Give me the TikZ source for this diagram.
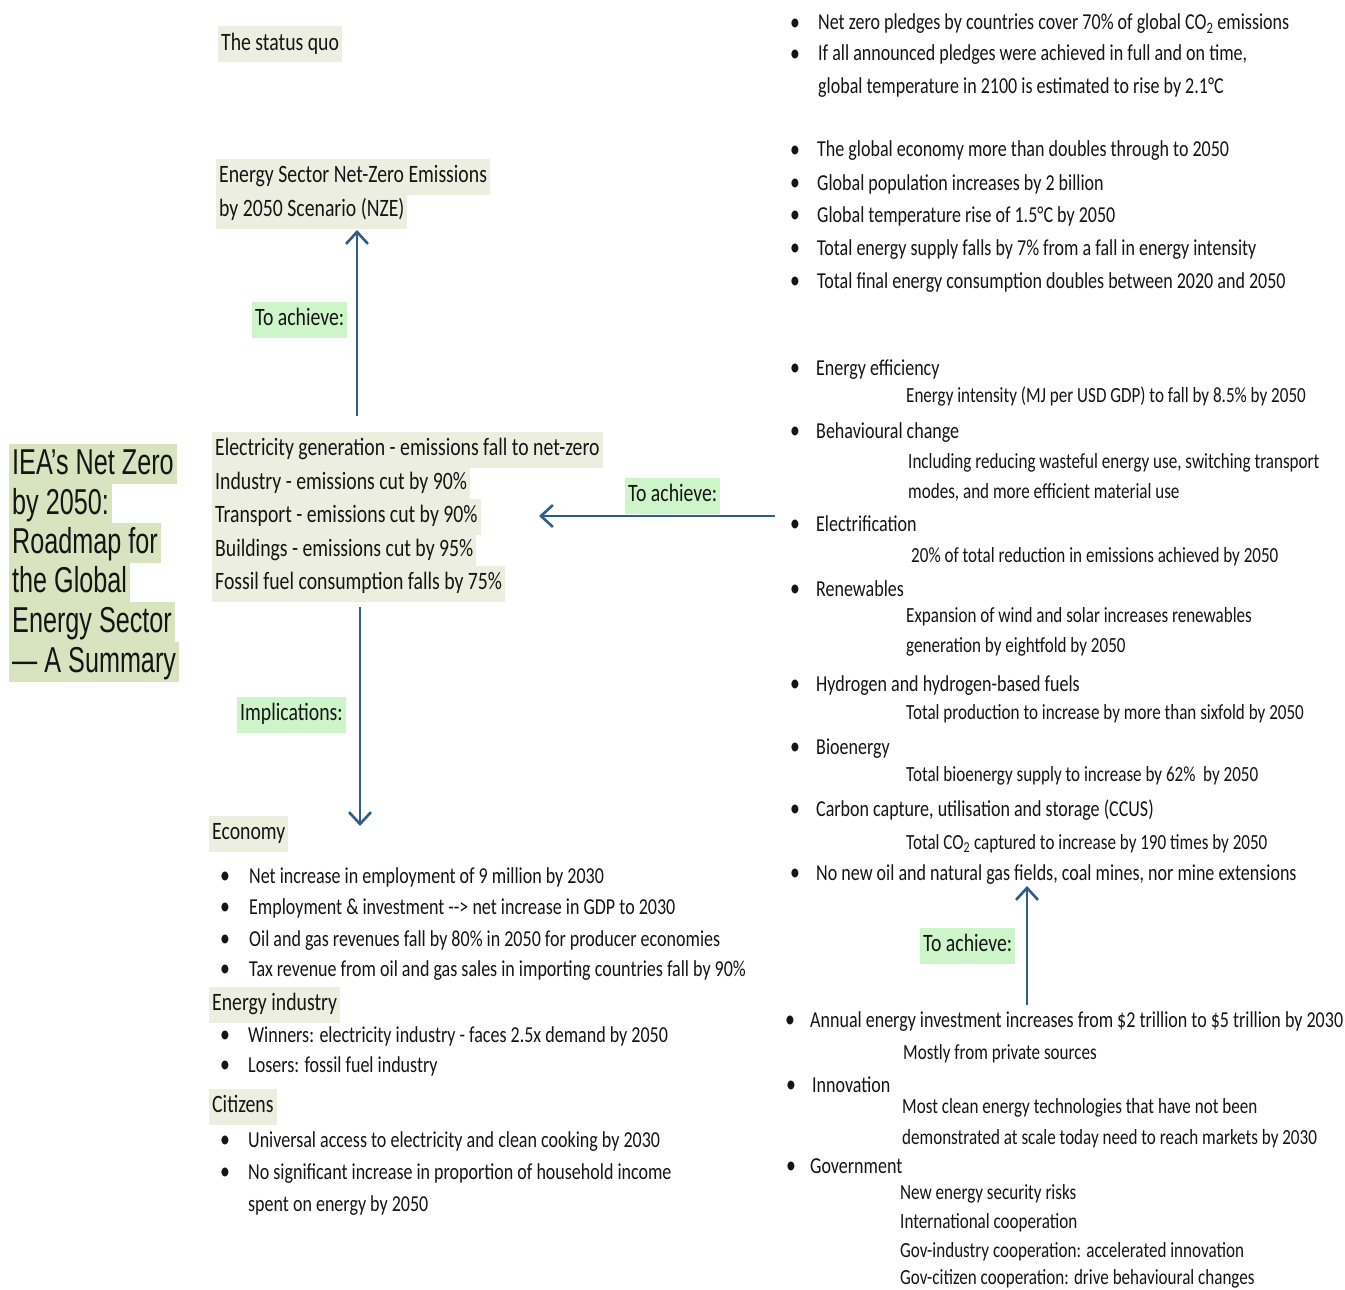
\documentclass[tikz,border=0pt]{standalone}
\usepackage{fontspec}
\setmainfont{Carlito}[FakeStretch=0.79]
\newfontfamily\ttlfont{Liberation Sans}[FakeStretch=0.70]
\usetikzlibrary{arrows.meta}
\definecolor{ink}{HTML}{151515}
\definecolor{hltitle}{HTML}{D8E3C0}
\definecolor{hlblock}{HTML}{ECEFE0}
\definecolor{hlgreen}{HTML}{CDF5C9}
\definecolor{arrowblue}{HTML}{2E5C8C}
\tikzset{
  txt/.style={anchor=west, yshift=-2.5pt, inner xsep=3pt, inner ysep=6pt, text height=17pt, text depth=6pt,
    font=\fontsize{22.8}{28}\selectfont, text=ink},
  subt/.style={txt, font=\fontsize{21.6}{26}\selectfont},
  hl/.style={txt, font=\fontsize{25}{30}\selectfont, text height=18pt, text depth=6pt, fill=hlblock},
  ach/.style={hl, fill=hlgreen},
  bul/.style={anchor=center, yshift=-2.5pt, inner sep=0pt, font=\fontsize{25}{28}\selectfont, text=ink},
  ttl/.style={anchor=west, yshift=-2pt, inner xsep=3pt, inner ysep=0pt, text height=30pt, text depth=10pt,
    font=\ttlfont\fontsize{36}{40}\selectfont, fill=hltitle, text=ink},
  conn/.style={draw=arrowblue, line width=2.6pt, -{Straight Barb[length=12pt,width=22pt,line width=2.6pt]}}
}
\newcommand\bitem[5]{\node[bul] (#1b) at (#2,#4) {\textbullet}; \node[txt] (#1) at (#3,#4) {#5};}
\newcommand\sitem[4]{\node[subt] (#1) at (#2,#3) {#4};}
\newcommand\citem[4]{\node[txt] (#1) at (#2,#3) {#4};}
\begin{document}
\begin{tikzpicture}[x=1pt,y=-1pt]
\fill[white] (0,0) rectangle (1345,1290);
\useasboundingbox (0,0) rectangle (1345,1290);

% title
\node[ttl] (t1) at (9,462) {IEA’s Net Zero};
\node[ttl] (t2) at (9,502) {by 2050:};
\node[ttl] (t3) at (9,541) {Roadmap for};
\node[ttl] (t4) at (9,580) {the Global};
\node[ttl] (t5) at (9,620) {Energy Sector};
\node[ttl] (t6) at (9,660) {— A Summary};

% status quo and NZE
\node[hl] (sq) at (218,42) {The status quo};
\node[hl] (nze1) at (216,174) {Energy Sector Net-Zero Emissions};
\node[hl] (nze2) at (216,208) {by 2050 Scenario (NZE)};

% middle block
\node[hl] (m1) at (212,447) {Electricity generation - emissions fall to net-zero};
\node[hl] (m2) at (212,481) {Industry - emissions cut by 90\%};
\node[hl] (m3) at (212,514) {Transport - emissions cut by 90\%};
\node[hl] (m4) at (212,548) {Buildings - emissions cut by 95\%};
\node[hl] (m5) at (212,581) {Fossil fuel consumption falls by 75\%};

% connectors
\coordinate (a1s) at (357,416);
\coordinate (a1e) at (357,230);
\draw[conn] (a1s) -- (a1e);
\node[ach] (ach1) at (252,317) {To achieve:};

\coordinate (a2s) at (775,516);
\coordinate (a2e) at (539,516);
\draw[conn] (a2s) -- (a2e);
\node[ach] (ach2) at (625,493) {To achieve:};

\coordinate (a3s) at (360,607);
\coordinate (a3e) at (360,826);
\draw[conn] (a3s) -- (a3e);
\node[ach] (imp) at (237,712) {Implications:};

\coordinate (a4s) at (1027,1005);
\coordinate (a4e) at (1027,886);
\draw[conn] (a4s) -- (a4e);
\node[ach] (ach3) at (920,943) {To achieve:};

% implications
\node[hl] (eco) at (209,831) {Economy};
\bitem{e1}{225}{246}{875}{Net increase in employment of 9 million by 2030}
\bitem{e2}{225}{246}{906}{Employment \& investment -{}-{}> net increase in GDP to 2030}
\bitem{e3}{225}{246}{938}{Oil and gas revenues fall by 80\% in 2050 for producer economies}
\bitem{e4}{225}{246}{968}{Tax revenue from oil and gas sales in importing countries fall by 90\%}
\node[hl] (ei) at (209,1002) {Energy industry};
\bitem{i1}{225}{245}{1034}{Winners: electricity industry - faces 2.5x demand by 2050}
\bitem{i2}{225}{245}{1064}{Losers: fossil fuel industry}
\node[hl] (cit) at (209,1104) {Citizens};
\bitem{c1}{225}{245}{1139}{Universal access to electricity and clean cooking by 2030}
\bitem{c2}{225}{245}{1171}{No significant increase in proportion of household income}
\citem{c2b}{245}{1203}{spent on energy by 2050}

% status quo bullets
\bitem{s1}{795}{815}{22}{Net zero pledges by countries cover 70\% of global CO\textsubscript{2} emissions}
\bitem{s2}{795}{815}{53}{If all announced pledges were achieved in full and on time,}
\citem{s2b}{815}{85}{global temperature in 2100 is estimated to rise by 2.1°C}

% NZE bullets
\bitem{n1}{795}{814}{149}{The global economy more than doubles through to 2050}
\bitem{n2}{795}{814}{182}{Global population increases by 2 billion}
\bitem{n3}{795}{814}{214}{Global temperature rise of 1.5°C by 2050}
\bitem{n4}{795}{814}{247}{Total energy supply falls by 7\% from a fall in energy intensity}
\bitem{n5}{795}{814}{280}{Total final energy consumption doubles between 2020 and 2050}

% measures
\bitem{r1}{795}{813}{367}{Energy efficiency}
\sitem{r1a}{903}{394}{Energy intensity (MJ per USD GDP) to fall by 8.5\% by 2050}
\bitem{r2}{795}{813}{430}{Behavioural change}
\sitem{r2a}{905}{460}{Including reducing wasteful energy use, switching transport}
\sitem{r2b}{905}{490}{modes, and more efficient material use}
\bitem{r3}{795}{813}{523}{Electrification}
\sitem{r3a}{908}{554}{20\% of total reduction in emissions achieved by 2050}
\bitem{r4}{795}{813}{588}{Renewables}
\sitem{r4a}{903}{614}{Expansion of wind and solar increases renewables}
\sitem{r4b}{903}{644}{generation by eightfold by 2050}
\bitem{r5}{795}{813}{683}{Hydrogen and hydrogen-based fuels}
\sitem{r5a}{903}{711}{Total production to increase by more than sixfold by 2050}
\bitem{r6}{795}{813}{746}{Bioenergy}
\sitem{r6a}{903}{773}{Total bioenergy supply to increase by 62\%\ \ by 2050}
\bitem{r7}{795}{813}{808}{Carbon capture, utilisation and storage (CCUS)}
\sitem{r7a}{903}{841}{Total CO\textsubscript{2} captured to increase by 190 times by 2050}
\bitem{r8}{795}{813}{872}{No new oil and natural gas fields, coal mines, nor mine extensions}

% enablers
\bitem{g1}{790}{807}{1019}{Annual energy investment increases from \$2 trillion to \$5 trillion by 2030}
\sitem{g1a}{900}{1051}{Mostly from private sources}
\bitem{g2}{791}{809}{1084}{Innovation}
\sitem{g2a}{899}{1105}{Most clean energy technologies that have not been}
\sitem{g2b}{899}{1136}{demonstrated at scale today need to reach markets by 2030}
\bitem{g3}{791}{807}{1165}{Government}
\sitem{g3a}{897}{1191}{New energy security risks}
\sitem{g3b}{897}{1220}{International cooperation}
\sitem{g3c}{897}{1249}{Gov-industry cooperation: accelerated innovation}
\sitem{g3d}{897}{1276}{Gov-citizen cooperation: drive behavioural changes}
\end{tikzpicture}
\end{document}
